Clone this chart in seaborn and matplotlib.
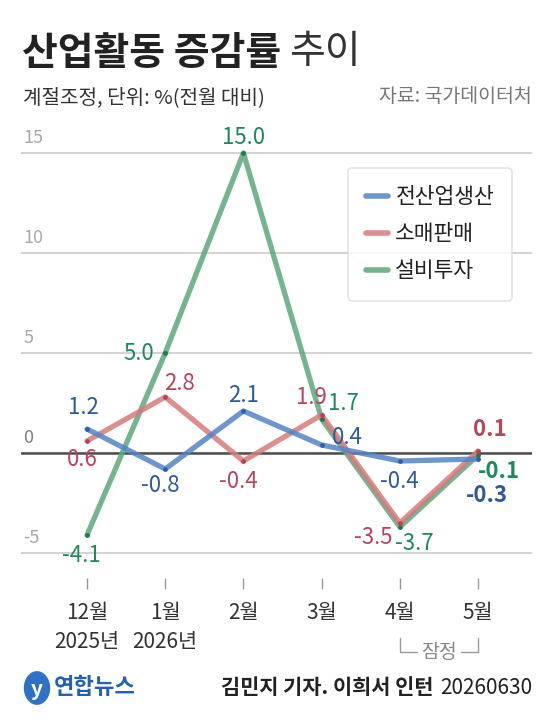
import numpy as np
import pandas as pd
import matplotlib
matplotlib.use("Agg")
import matplotlib.pyplot as plt
import matplotlib.transforms as mtransforms
from matplotlib.lines import Line2D
from matplotlib.patches import Circle
import seaborn as sns

months = ["12월\n2025년", "1월\n2026년", "2월", "3월", "4월", "5월"]
series = ["전산업생산", "소매판매", "설비투자"]
production = [1.2, -0.8, 2.1, 0.4, -0.4, -0.3]
retail = [0.6, 2.8, -0.4, 1.9, -3.5, 0.1]
investment = [-4.1, 5.0, 15.0, 1.7, -3.7, -0.1]
yticks = [-5, 0, 5, 10, 15]

line_colors = {"전산업생산": "#5484c8", "소매판매": "#d87a7a", "설비투자": "#5ea67c"}
dot_colors = {"전산업생산": "#2d5fa8", "소매판매": "#b9415a", "설비투자": "#1d7a4e"}
text_colors = {"전산업생산": "#2e5a9c", "소매판매": "#b7455c", "설비투자": "#1e8a5b"}

# label offsets in pixels (dx right, dy down) per series / month
offsets = {
    "전산업생산": [(-4, -21), (-5, 17), (0, -16), (26, -7), (0, 20), (9, 37)],
    "소매판매": [(-5, 19), (14, -13), (-5, 21), (-10, -17), (-27, 14), (12, -21)],
    "설비투자": [(-6, 20), (-26, 0), (0, -16), (22, -15), (14, 16), (21, 16)],
}

df = pd.DataFrame({
    "idx": list(range(len(months))) * 3,
    "series": np.repeat(series, len(months)),
    "value": production + retail + investment,
})

sns.set_theme(style="white")
plt.rcParams["font.family"] = ["Noto Sans CJK KR", "DejaVu Sans"]
plt.rcParams["axes.unicode_minus"] = False

fig = plt.figure(figsize=(5.57, 7.2), dpi=100)
ax = fig.add_axes([21 / 557, 1 - 578 / 720, 511 / 557, 453 / 720])

# green first, blue on top
draw_order = ["설비투자", "소매판매", "전산업생산"]
sns.lineplot(data=df, x="idx", y="value", hue="series", hue_order=draw_order,
             palette=line_colors, linewidth=3.8, alpha=0.85, legend=False, ax=ax,
             zorder=3)
for s in draw_order:
    sub = df[df["series"] == s]
    ax.scatter(sub["idx"], sub["value"], s=12, color=dot_colors[s], zorder=4,
               linewidths=0)

px = 0.72
for s in series:
    sub = df[df["series"] == s].reset_index(drop=True)
    for i, row in sub.iterrows():
        dx, dy = offsets[s][i]
        last = i == len(months) - 1
        ax.annotate(f"{row['value']:.1f}", (row["idx"], row["value"]),
                    xytext=(dx * px, -dy * px), textcoords="offset points",
                    ha="center", va="center", fontsize=16,
                    color=text_colors[s], fontweight="bold" if last else "normal",
                    zorder=6, annotation_clip=False)

ax.set_xlim(-0.844, 5.69)
ax.set_ylim(-6.25, 16.4)
ax.set_yticks(yticks)
ax.set_yticklabels([])
ax.tick_params(axis="y", length=0)
ax.grid(axis="y", color="#c8c8c8", linewidth=1.1)
ax.grid(axis="x", visible=False)
ax.axhline(0, color="#4d4d4d", linewidth=1.8, zorder=2)
for sp in ax.spines.values():
    sp.set_visible(False)

ytrans = mtransforms.blended_transform_factory(ax.transAxes, ax.transData)
for v in yticks:
    ax.text(0.005, v + 0.3, str(v), transform=ytrans, ha="left", va="bottom",
            fontsize=13, color="#808080" if v == 0 else "#a8a8a8",
            fontweight="light")

ax.set_xticks(range(len(months)))
ax.set_xticklabels(months, fontsize=15, color="#333333", linespacing=1.45,
                   fontweight="light")
ax.tick_params(axis="x", bottom=True, length=8, width=1, color="#999999",
               pad=9, direction="out")
ax.set_xlabel("")
ax.set_ylabel("")

# legend
handles = [Line2D([0], [0], color=line_colors[s], linewidth=4, alpha=0.85)
           for s in series]
leg = ax.legend(handles, series, loc="upper left",
                bbox_to_anchor=(348 / 557, 1 - 168 / 720),
                bbox_transform=fig.transFigure, borderaxespad=0,
                fontsize=15.5, handlelength=1.0, handletextpad=0.35,
                labelspacing=0.7, borderpad=0.85, frameon=True, fancybox=True)
leg.get_frame().set_edgecolor("#dddddd")
leg.get_frame().set_linewidth(1.2)
for t in leg.get_texts():
    t.set_color("#222222")

# 잠정 bracket
btrans = mtransforms.blended_transform_factory(ax.transData, fig.transFigure)
y_top, y_bot = 1 - 638 / 720, 1 - 652 / 720
ax.plot([4, 4, 4.22], [y_top, y_bot, y_bot], transform=btrans, color="#999999",
        linewidth=1, clip_on=False)
ax.plot([4.78, 5, 5], [y_bot, y_bot, y_top], transform=btrans, color="#999999",
        linewidth=1, clip_on=False)
ax.text(4.5, 1 - 653 / 720, "잠정", transform=btrans, ha="center", va="center",
        fontsize=14, color="#888888", fontweight="light")

# title / subtitle / source
title = fig.text(22 / 557, 1 - 53 / 720, "산업활동 증감률", fontsize=28,
                 fontweight="bold", color="#222222", va="center", ha="left")
ax.annotate("추이", xy=(1, 0), xycoords=title, xytext=(6, 0),
            textcoords="offset points", fontsize=28, fontweight="light",
            color="#333333", va="bottom", ha="left", annotation_clip=False)
fig.text(23 / 557, 1 - 98 / 720, "계절조정, 단위: %(전월 대비)", fontsize=14.5,
         color="#333333", va="center", ha="left", fontweight="light")
fig.text(532 / 557, 1 - 97 / 720, "자료: 국가데이터처", fontsize=14,
         color="#777777", va="center", ha="right", fontweight="light")

# footer
fig.patches.append(Circle((37 / 557, 1 - 688 / 720), 12.5 / 557,
                          transform=fig.transFigure, color="#2f72c4",
                          figure=fig))
fig.text(37 / 557, 1 - 689 / 720, "y", fontsize=15, fontweight="bold",
         fontstyle="italic", color="white", ha="center", va="center")
fig.text(54 / 557, 1 - 688 / 720, "연합뉴스", fontsize=16, fontweight="bold",
         color="#2461b0", ha="left", va="center")
credit = fig.text(532 / 557, 1 - 688 / 720, "20260630", fontsize=15,
                  color="#222222", ha="right", va="center", fontweight="light")
ax.annotate("김민지 기자. 이희서 인턴", xy=(0, 0.5), xycoords=credit,
            xytext=(-5, 0), textcoords="offset points", fontsize=15,
            fontweight="bold", color="#222222", ha="right", va="center",
            annotation_clip=False)

fig.savefig("out.png", dpi=100)
